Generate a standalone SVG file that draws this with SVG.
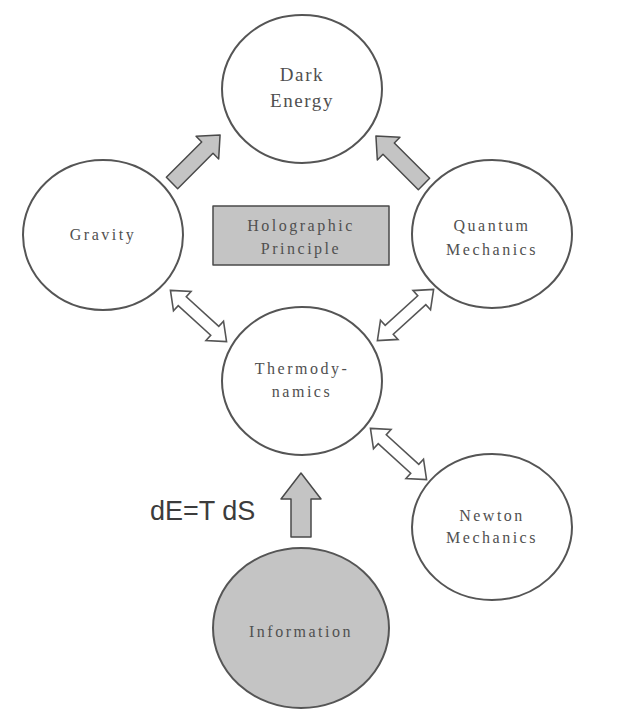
<svg xmlns="http://www.w3.org/2000/svg" width="640" height="718" viewBox="0 0 640 718">
<style>
.node{fill:#fff;stroke:#555;stroke-width:2}
.lbl{font-family:"Liberation Serif",serif;font-size:16px;fill:#505050;text-anchor:middle;letter-spacing:2.5px}
.big{font-size:19px;letter-spacing:1.6px}
.block{fill:#c4c4c4;stroke:#4a4a4a;stroke-width:1.5;stroke-linejoin:round}
.dbl{fill:#fff;stroke:#555;stroke-width:1.6;stroke-linejoin:miter}
</style>
<defs>
<polygon id="dblArrow" points="-38,0 -22,-13 -22,-6 22,-6 22,-13 38,0 22,13 22,6 -22,6 -22,13"/>
</defs>
<rect width="640" height="718" fill="#fff"/>
<g id="connectors">
<polygon class="block" points="0,-8 50,-8 50,-16 68,0 50,16 50,8 0,8" transform="translate(172,183) rotate(-45)"/>
<polygon class="block" points="0,-8 50,-8 50,-16 68,0 50,16 50,8 0,8" transform="translate(424,184) rotate(-135)"/>
<polygon class="block" points="0,-10 38,-10 38,-20 64,0 38,20 38,10 0,10" transform="translate(301,537) rotate(-90)"/>
<use href="#dblArrow" class="dbl" transform="translate(198.5,316) rotate(42.4)"/>
<use href="#dblArrow" class="dbl" transform="translate(405.5,315) rotate(137.7)"/>
<use href="#dblArrow" class="dbl" transform="translate(398.5,454) rotate(42.4)"/>
</g>
<g id="dark-energy">
<ellipse class="node" cx="302" cy="89" rx="80" ry="74"/>
<text class="lbl big" x="302" y="81">Dark</text>
<text class="lbl big" x="302" y="107">Energy</text>
</g>
<g id="gravity">
<ellipse class="node" cx="103" cy="235" rx="80" ry="75"/>
<text class="lbl" x="103" y="240">Gravity</text>
</g>
<g id="quantum">
<ellipse class="node" cx="492" cy="234" rx="80" ry="74"/>
<text class="lbl" x="492" y="231">Quantum</text>
<text class="lbl" x="492" y="255">Mechanics</text>
</g>
<g id="holographic">
<rect class="block" x="213" y="206" width="176" height="59"/>
<text class="lbl" x="301" y="231">Holographic</text>
<text class="lbl" x="301" y="254">Principle</text>
</g>
<g id="thermo">
<ellipse class="node" cx="302" cy="381" rx="80" ry="74"/>
<text class="lbl" x="302" y="374">Thermody-</text>
<text class="lbl" x="302" y="397">namics</text>
</g>
<g id="newton">
<ellipse class="node" cx="492" cy="527" rx="80" ry="73"/>
<text class="lbl" x="492" y="521">Newton</text>
<text class="lbl" x="492" y="543">Mechanics</text>
</g>
<g id="information">
<ellipse cx="301" cy="628" rx="88" ry="80" fill="#c4c4c4" stroke="#555" stroke-width="2"/>
<text class="lbl" x="301" y="637">Information</text>
</g>
<text id="equation" x="150" y="520" font-family="Liberation Sans,Arial,sans-serif" font-size="27" fill="#3c3c3c">dE=T dS</text>
</svg>
